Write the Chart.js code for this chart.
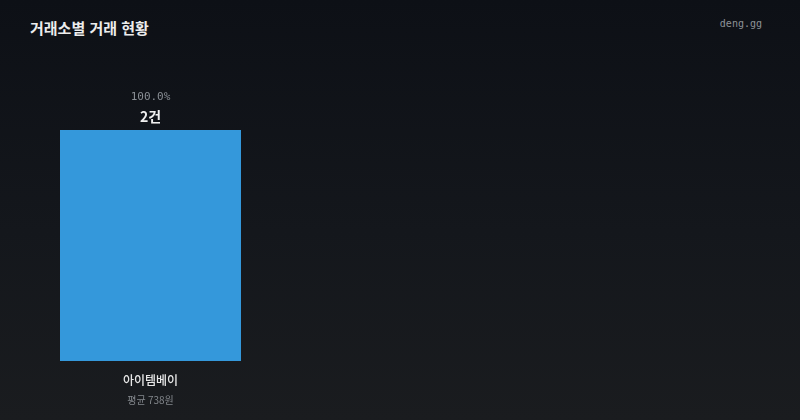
<!DOCTYPE html>
<html lang="ko">
<head>
<meta charset="UTF-8">
<script src="https://cdn.jsdelivr.net/npm/chart.js"></script>
<title>거래소별 거래 현황</title>
<style>
  html, body { margin: 0; padding: 0; }
  body {
    width: 800px; height: 420px; overflow: hidden; position: relative;
    background: linear-gradient(180deg, #0d1016 0%, #14171c 55%, #1a1c1f 100%);
    font-family: "Noto Sans CJK KR", "Noto Sans", sans-serif;
  }
  #titulo {
    position: absolute; left: 30px; top: 17px;
    color: #ececec; font-size: 15px; font-weight: 700;
  }
  #marca {
    position: absolute; right: 38px; top: 18px;
    color: #8d9297; font-size: 10px; font-family: "DejaVu Sans Mono", monospace;
  }
  #caixa { position: absolute; left: 0; top: 0; width: 800px; height: 420px; }
</style>
</head>
<body>
  <div id="titulo">거래소별 거래 현황</div>
  <div id="marca">deng.gg</div>
  <div id="caixa"><canvas id="grafico1"></canvas></div>
  <script>
    // dados
    const exchanges = ['아이템베이']
    const counts = [2]
    const shares = [100.0]
    const avgPrices = [738]

    const rotulos = {
      id: 'rotulos',
      afterDatasetsDraw(chart) {
        const c = chart.ctx
        const meta = chart.getDatasetMeta(0)
        const base = chart.scales.y.getPixelForValue(0)
        c.save()
        c.textAlign = 'center'
        c.textBaseline = 'middle'
        meta.data.forEach((bar, i) => {
          const x = bar.x
          c.fillStyle = '#f0f0f0'
          c.font = 'bold 14px "Noto Sans CJK KR", sans-serif'
          c.fillText(counts[i] + '건', x, bar.y - 13)
          c.fillStyle = '#8a8f95'
          c.font = '11px "DejaVu Sans Mono", monospace'
          c.fillText(shares[i].toFixed(1) + '%', x, bar.y - 33)
          c.fillStyle = '#e8e8e8'
          c.font = '500 12px "Noto Sans CJK KR", sans-serif'
          c.fillText(exchanges[i], x, base + 19)
          c.fillStyle = '#83878c'
          c.font = '10px "Noto Sans CJK KR", sans-serif'
          c.fillText('평균 ' + avgPrices[i].toLocaleString() + '원', x, base + 39)
        })
        c.restore()
      }
    }

    new Chart(document.getElementById('grafico1'), {
      type: 'bar',
      data: {
        labels: exchanges,
        datasets: [{
          data: counts,
          backgroundColor: '#3498db',
          borderWidth: 0,
          barPercentage: 1,
          categoryPercentage: 1
        }]
      },
      options: {
        responsive: true,
        maintainAspectRatio: false,
        animation: false,
        layout: { padding: { left: 60, right: 559, top: 130, bottom: 59 } },
        plugins: { legend: { display: false }, tooltip: { enabled: false } },
        scales: {
          x: { display: false },
          y: { display: false, min: 0, max: Math.max(...counts) }
        }
      },
      plugins: [rotulos]
    })
  </script>
</body>
</html>
